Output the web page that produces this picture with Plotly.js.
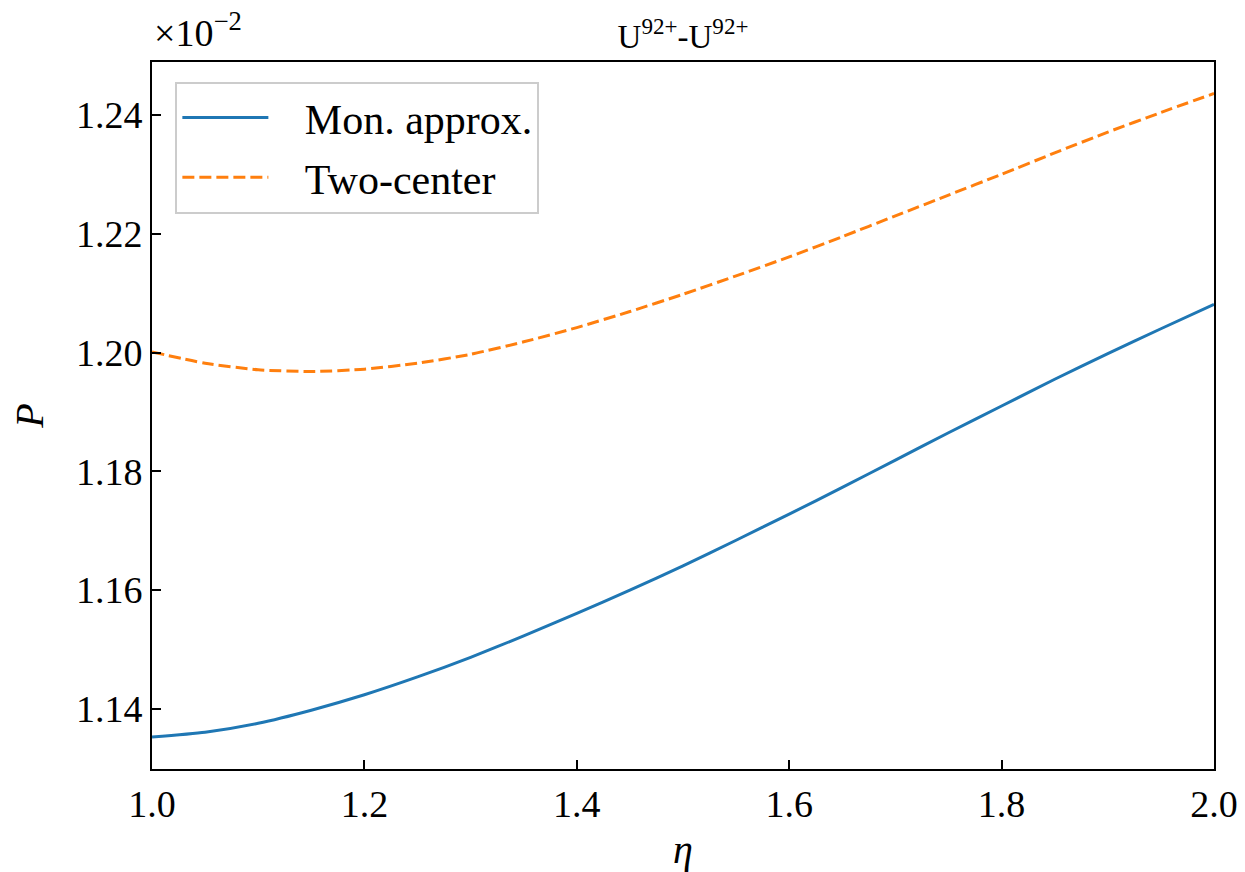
<!DOCTYPE html>
<html>
<head>
<meta charset="utf-8">
<script src="https://cdn.plot.ly/plotly-3.0.1.min.js"></script>
<style>
  html, body { margin: 0; padding: 0; background: #ffffff; }
  #chart { width: 1245px; height: 872px; }
</style>
</head>
<body>
<div id="chart"></div>
<script>
// eta values
const eta = [1.00, 1.05, 1.10, 1.15, 1.20, 1.25, 1.30, 1.35, 1.40, 1.45, 1.50,
             1.55, 1.60, 1.65, 1.70, 1.75, 1.80, 1.85, 1.90, 1.95, 2.00];
// P values (in units of 10^-2)
const monApprox = [1.1353, 1.1361, 1.1376, 1.1398, 1.1424, 1.1454, 1.1487, 1.1523, 1.1561, 1.1600, 1.1641,
                   1.1684, 1.1728, 1.1773, 1.1819, 1.1865, 1.1910, 1.1955, 1.1998, 1.2040, 1.2081];
const twoCenter = [1.2001, 1.1982, 1.1971, 1.1968, 1.1972, 1.1982, 1.1997, 1.2018, 1.2042, 1.2069, 1.2098,
                   1.2129, 1.2161, 1.2195, 1.2230, 1.2265, 1.2300, 1.2336, 1.2371, 1.2404, 1.2436];
const seriesNames = ["Mon. approx.", "Two-center"];
const xTicks = [1.0, 1.2, 1.4, 1.6, 1.8, 2.0];
const yTicks = [1.14, 1.16, 1.18, 1.20, 1.22, 1.24];

const FONT = "'Liberation Serif', 'DejaVu Serif', serif";
const PAD = '\u00a0\u00a0\u00a0';

const traces = [
  {
    x: eta, y: monApprox, type: 'scatter', mode: 'lines', name: PAD + seriesNames[0], legendgroup: 'a',
    line: { color: '#1f77b4', width: 3, shape: 'spline', smoothing: 0.6 }
  },
  {
    x: eta, y: twoCenter, type: 'scatter', mode: 'lines', name: PAD + seriesNames[1], legendgroup: 'b',
    line: { color: '#ff7f0e', width: 3, dash: '12px,5px', shape: 'spline', smoothing: 0.6 }
  }
];

const layout = {
  width: 1245, height: 872,
  margin: { l: 152, r: 31, t: 62, b: 103 },
  paper_bgcolor: '#ffffff', plot_bgcolor: '#ffffff',
  font: { family: FONT, size: 38, color: '#000000' },
  showlegend: true,
  title: {
    text: 'U<sup>92+</sup>-U<sup>92+</sup>',
    font: { family: FONT, size: 33, color: '#000000' },
    x: 0.5, xref: 'paper', xanchor: 'center',
    y: 1 - 36 / 872, yref: 'container', yanchor: 'middle'
  },
  xaxis: {
    range: [1.0, 2.0],
    tickvals: xTicks, tickformat: '.1f',
    ticks: 'inside', ticklen: 9, tickwidth: 2, tickcolor: '#000',
    showline: true, linecolor: '#000', linewidth: 2, mirror: true,
    showgrid: false, zeroline: false,
    tickfont: { family: FONT, size: 38, color: '#000' },
    title: { text: '<i>η</i>', font: { family: FONT, size: 40, color: '#000' }, standoff: 14 }
  },
  yaxis: {
    range: [1.1299, 1.2489],
    tickvals: yTicks, tickformat: '.2f',
    ticks: 'inside', ticklen: 9, tickwidth: 2, tickcolor: '#000',
    showline: true, linecolor: '#000', linewidth: 2, mirror: true,
    showgrid: false, zeroline: false,
    tickfont: { family: FONT, size: 38, color: '#000' },
    title: { text: '<i>P</i>', font: { family: FONT, size: 40, color: '#000' }, standoff: 20 }
  },
  legend: {
    x: 0.022, xanchor: 'left', y: 0.972, yanchor: 'top',
    bgcolor: 'rgba(255,255,255,0.8)', bordercolor: '#cccccc', borderwidth: 2,
    font: { family: FONT, size: 42, color: '#000' },
    itemwidth: 86, tracegroupgap: 2
  },
  annotations: [
    {
      text: '×10<sup>−2</sup>', showarrow: false,
      xref: 'paper', yref: 'paper', x: 0, xanchor: 'left',
      y: 1 + (62 - 30) / 707, yanchor: 'middle',
      font: { family: FONT, size: 38, color: '#000' }
    }
  ]
};

Plotly.newPlot('chart', traces, layout, { displayModeBar: false, staticPlot: true });
</script>
</body>
</html>
